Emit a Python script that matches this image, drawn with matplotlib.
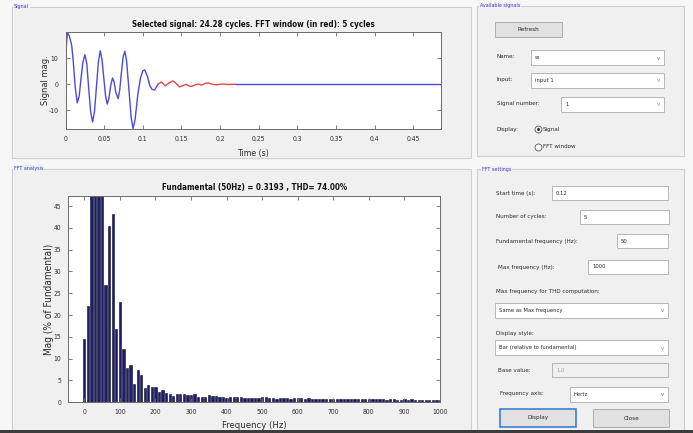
import matplotlib
matplotlib.use("Agg")
import matplotlib.pyplot as plt
from matplotlib.patches import Rectangle
from matplotlib.lines import Line2D
from matplotlib import font_manager as fm

# pick a narrow sans font if one is installed
_names = {f.name for f in fm.fontManager.ttflist}
_cond = [f for f in fm.fontManager.ttflist
         if f.name in ('DejaVu Sans', 'Liberation Sans', 'Noto Sans', 'Open Sans', 'Roboto')
         and str(f.stretch) in ('condensed', 'semi-condensed', '75', '87', 'extra-condensed')]
STRETCH = 'normal'
SCALE = 1.0
if 'Liberation Sans Narrow' in _names:
    FAMILY = 'Liberation Sans Narrow'
    SCALE = 1.1
elif 'Arial Narrow' in _names:
    FAMILY = 'Arial Narrow'
    SCALE = 1.1
elif _cond:
    FAMILY = _cond[0].name
    STRETCH = 'condensed'
else:
    FAMILY = 'Liberation Sans'
    SCALE = 0.88
plt.rcParams['font.family'] = [FAMILY, 'DejaVu Sans']
plt.rcParams['font.stretch'] = STRETCH
plt.rcParams['axes.unicode_minus'] = False

# ---------------- data ----------------
sig_t = [0.0000, 0.0010, 0.0024, 0.0050, 0.0080, 0.0100, 0.0125, 0.0152, 0.0177, 0.0200,
         0.0225, 0.0251, 0.0275, 0.0300, 0.0325, 0.0350, 0.0375, 0.0400, 0.0425, 0.0449,
         0.0472, 0.0495, 0.0518, 0.0540, 0.0560, 0.0585, 0.0608, 0.0628, 0.0650, 0.0680,
         0.0700, 0.0725, 0.0745, 0.0767, 0.0790, 0.0820, 0.0850, 0.0874, 0.0900, 0.0935,
         0.0970, 0.1000, 0.1025, 0.1060, 0.1090, 0.1120, 0.1153, 0.1180, 0.1200]
sig_y = [0.0, 14.0, 20.0, 18.5, 15.0, 9.0, -1.0, -7.2, -4.5, 2.0,
         8.5, 11.4, 8.0, -1.5, -10.5, -14.5, -10.5, -1.0, 8.5, 12.9,
         9.5, 2.5, -4.5, -7.6, -5.5, -0.5, 2.4, 1.0, -3.0, -5.5,
         -2.5, 5.0, 10.5, 12.7, 9.0, -2.0, -13.0, -17.0, -13.5, -4.0,
         2.5, 5.2, 5.5, 3.0, -0.5, -2.0, -2.2, -0.8, 0.1]
win_t = [0.1200, 0.1240, 0.1290, 0.1340, 0.1390, 0.1430, 0.1475, 0.1520, 0.1560, 0.1600,
         0.1630, 0.1680, 0.1720, 0.1760, 0.1810, 0.1850, 0.1900, 0.1950, 0.2000, 0.2050,
         0.2100, 0.2150, 0.2200]
win_y = [0.1, 0.9, -0.6, 0.6, 1.3, 0.3, -1.0, -0.5, 0.0, -0.7,
         -0.8, -0.2, 0.1, -0.3, 0.4, 0.5, 0.0, -0.2, 0.0, 0.1,
         -0.1, 0.0, 0.0]
tail_t = [0.2200, 0.4856]
tail_y = [0.0, 0.0]

freq_hz = list(range(0, 1001, 10))
mag_pct = [14.6, 22.1, 58.0, 81.0, 69.0, 100.0, 26.8, 40.4, 43.2, 16.8,
           22.9, 12.2, 7.8, 8.6, 4.3, 7.3, 6.3, 3.3, 3.9, 3.4,
           3.6, 2.4, 2.9, 2.2, 1.9, 1.4, 2.0, 1.9, 2.0, 1.6,
           1.6, 2.0, 1.2, 1.2, 1.3, 1.6, 1.45, 1.45, 1.3, 1.15,
           0.9, 1.2, 1.2, 1.2, 1.15, 1.1, 1.05, 1.05, 1.0, 0.9,
           1.2, 1.15, 1.1, 1.0, 0.85, 0.9, 0.9, 0.9, 0.85, 0.9,
           0.95, 0.9, 0.85, 0.9, 0.8, 0.85, 0.8, 0.8, 0.85, 0.75,
           0.7, 0.75, 0.8, 0.75, 0.7, 0.75, 0.7, 0.7, 0.75, 0.65,
           0.7, 0.65, 0.7, 0.65, 0.65, 0.6, 0.7, 0.65, 0.6, 0.6,
           0.65, 0.6, 0.7, 0.6, 0.6, 0.55, 0.6, 0.55, 0.6, 0.55,
           0.55]

sig_xticks = [0, 0.05, 0.1, 0.15, 0.2, 0.25, 0.3, 0.35, 0.4, 0.45]
sig_xticklabels = ['0', '0.05', '0.1', '0.15', '0.2', '0.25', '0.3', '0.35', '0.4', '0.45']
sig_yticks = [-10, 0, 10]
fft_xticks = [0, 100, 200, 300, 400, 500, 600, 700, 800, 900, 1000]
fft_yticks = [0, 5, 10, 15, 20, 25, 30, 35, 40, 45]

# ---------------- figure ----------------
W, H = 693, 433
fig = plt.figure(figsize=(W / 100, H / 100), dpi=100, facecolor='#f7f7f7')

def fx(x):
    return x / W

def fy(y):
    return 1 - y / H

def rect(x0, y0, x1, y1, fc='none', ec='#c8c8c8', lw=0.8, z=0):
    fig.add_artist(Rectangle((fx(x0), fy(y1)), (x1 - x0) / W, (y1 - y0) / H,
                             transform=fig.transFigure, fc=fc, ec=ec, lw=lw, zorder=z))

def txt(x, y, s, size=4.5, color='#2a2a2a', ha='left', va='center', **kw):
    fig.text(fx(x), fy(y), s, fontsize=size * SCALE, color=color, ha=ha, va=va, **kw)

PANEL_BG = '#f0f0f0'
TITLE_C = '#3a3ad0'

# panels
rect(12, 7, 471, 158, fc=PANEL_BG, ec='#cfcfcf')
rect(12, 169, 471, 431, fc=PANEL_BG, ec='#cfcfcf')
rect(477, 6, 684, 156, fc=PANEL_BG, ec='#cfcfcf')
rect(477, 169, 684, 431, fc=PANEL_BG, ec='#cfcfcf')
for (x, y, s) in [(14, 6.5, 'Signal'), (14, 168.5, 'FFT analysis'),
                  (480, 5.5, 'Available signals'), (482, 169, 'FFT settings')]:
    txt(x, y, s, size=3.9, color=TITLE_C,
        bbox=dict(fc=PANEL_BG, ec='none', pad=0.6))
# bottom window edge
rect(0, 430, 693, 433, fc='#3c3c3c', ec='none')

# ---------------- signal axes ----------------
def style_axes(ax, pad):
    for sp in ax.spines.values():
        sp.set_color('#6a6a6a')
        sp.set_linewidth(0.7)
    ax.tick_params(direction='in', top=True, right=True, length=3, width=0.6,
                   colors='#6a6a6a', labelcolor='#303030', labelsize=4.9 * SCALE, pad=pad)

ax1 = fig.add_axes([fx(65.5), fy(129), (441 - 65.5) / W, (129 - 32.3) / H])
ax1.set_facecolor('white')
ax1.plot(sig_t, sig_y, color='#4a4ae0', lw=1.0)
ax1.plot(win_t, win_y, color='#e8484a', lw=1.0)
ax1.plot(tail_t, tail_y, color='#4a4ae0', lw=1.0)
ax1.set_xlim(0, 0.4856)
ax1.set_ylim(-17.2, 20.0)
ax1.set_xticks(sig_xticks)
ax1.set_xticklabels(sig_xticklabels)
ax1.set_yticks(sig_yticks)
style_axes(ax1, 5)
ax1.set_title('Selected signal: 24.28 cycles. FFT window (in red): 5 cycles',
              fontsize=5.8 * SCALE, fontweight='bold', color='#111111', pad=4)
ax1.set_xlabel('Time (s)', fontsize=6.3 * SCALE, color='#2a2a2a', labelpad=5)
ax1.set_ylabel('Signal mag.', fontsize=6.7 * SCALE, color='#2a2a2a', labelpad=-1)

# ---------------- FFT axes ----------------
ax2 = fig.add_axes([fx(68.3), fy(402.3), (440 - 68.3) / W, (402.3 - 196) / H])
ax2.set_facecolor('white')
ax2.bar(freq_hz, mag_pct, width=6.5, color='#1e1e6a', edgecolor='#0c0c30', linewidth=0.4)
ax2.set_xlim(-45, 1000)
ax2.set_ylim(0, 47.3)
ax2.set_xticks(fft_xticks)
ax2.set_yticks(fft_yticks)
style_axes(ax2, 5)
ax2.set_title('Fundamental (50Hz) = 0.3193 , THD= 74.00%',
              fontsize=5.8 * SCALE, fontweight='bold', color='#111111', pad=4)
ax2.set_xlabel('Frequency (Hz)', fontsize=6.8 * SCALE, color='#2a2a2a', labelpad=4)
ax2.set_ylabel('Mag (% of Fundamental)', fontsize=7.2 * SCALE, color='#2a2a2a', labelpad=0)

# ---------------- right side controls ----------------
def button(x0, y0, x1, y1, label, highlight=False):
    rect(x0, y0, x1, y1, fc='#e1e1e1', ec='#3c7fd6' if highlight else '#adadad',
         lw=1.2 if highlight else 0.7, z=2)
    txt((x0 + x1) / 2, (y0 + y1) / 2, label, size=4.6, color='#2a2a2a', ha='center', zorder=3)

def edit(x0, y0, x1, y1, value, fc='white', tc='#2a2a2a'):
    rect(x0, y0, x1, y1, fc=fc, ec='#b5b5b5', lw=0.7, z=2)
    txt(x0 + 4, (y0 + y1) / 2, value, size=4.2, color=tc, zorder=3)

def dropdown(x0, y0, x1, y1, value):
    edit(x0, y0, x1, y1, value)
    txt(x1 - 6, (y0 + y1) / 2 + 0.5, 'v', size=4.4, color='#8a8a8a', ha='center', zorder=3)

# Available signals
button(495, 22, 562, 37, 'Refresh')
txt(497, 57, 'Name:')
dropdown(531, 50, 664, 65, 'ss')
txt(497, 80, 'Input:')
dropdown(531, 73, 664, 88, 'input 1')
txt(497, 104, 'Signal number:')
dropdown(561, 97, 664, 112, '1')
txt(497, 129, 'Display:')
fig.add_artist(Line2D([fx(538)], [fy(129)], marker='o', ms=5.0, mfc='white', mec='#555555',
                      mew=0.6, transform=fig.transFigure, zorder=3))
fig.add_artist(Line2D([fx(538)], [fy(129)], marker='o', ms=2.2, mfc='#333333', mec='none',
                      transform=fig.transFigure, zorder=4))
txt(543, 129, 'Signal')
fig.add_artist(Line2D([fx(538)], [fy(147)], marker='o', ms=5.0, mfc='white', mec='#555555',
                      mew=0.6, transform=fig.transFigure, zorder=3))
txt(543, 147, 'FFT window')

# FFT settings
txt(496, 193, 'Start time (s):')
edit(552, 186, 668, 200, '0.12')
txt(496, 216, 'Number of cycles:')
edit(580, 210, 669, 224, '5')
txt(496, 241, 'Fundamental frequency (Hz):')
edit(617, 234, 668, 248, '50')
txt(498, 267, 'Max frequency (Hz):')
edit(588, 260, 668, 274, '1000')
txt(496, 292, 'Max frequency for THD computation:')
dropdown(495, 303, 668, 318, 'Same as Max frequency')
txt(496, 334, 'Display style:')
dropdown(495, 340, 668, 355, 'Bar (relative to fundamental)')
txt(498, 370, 'Base value:')
edit(552, 363, 668, 377, '1.0', fc='#f0f0f0', tc='#a0a0a0')
txt(500, 394, 'Frequency axis:')
dropdown(570, 387, 668, 402, 'Hertz')
button(500, 409, 576, 427, 'Display', highlight=True)
button(593, 409, 669, 427, 'Close')

fig.savefig('out.png', dpi=100, facecolor=fig.get_facecolor())
